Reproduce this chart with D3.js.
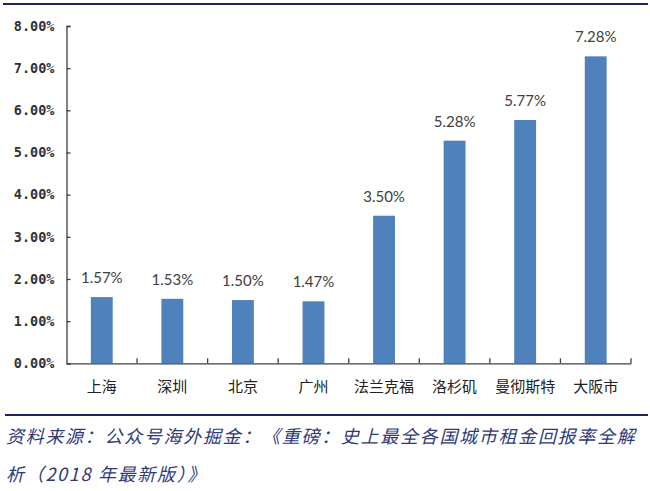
<!DOCTYPE html>
<html>
<head>
<meta charset="utf-8">
<script src="https://cdn.jsdelivr.net/npm/d3@7"></script>
<style>
  html, body { margin: 0; padding: 0; background: #fff; }
</style>
</head>
<body>
<svg id="chart" width="650" height="491"></svg>
<script>
const cities = ['上海', '深圳', '北京', '广州', '法兰克福', '洛杉矶', '曼彻斯特', '大阪市'];
const yields = [1.57, 1.53, 1.50, 1.47, 3.50, 5.28, 5.77, 7.28];
const yTicks = [0, 1, 2, 3, 4, 5, 6, 7, 8];
const sourceLines = [
    '资料来源：公众号海外掘金：《重磅：史上最全各国城市租金回报率全解',
    '析（2018 年最新版）》'
];

const svg = d3.select('#chart');
const plotLeft = 66.5, plotRight = 631, plotTop = 26, plotBottom = 363.3;

const x = d3.scaleBand()
    .domain(cities)
    .range([plotLeft, plotRight])
    .paddingInner(0.69)
    .paddingOuter(0.345);

const y = d3.scaleLinear()
    .domain([0, 8])
    .range([plotBottom, plotTop]);

// rules top and under the chart
svg.append('line')
    .attr('x1', 3).attr('x2', 648)
    .attr('y1', 4).attr('y2', 4)
    .attr('stroke', '#1f2466').attr('stroke-width', 2);
svg.append('line')
    .attr('x1', 5).attr('x2', 648)
    .attr('y1', 415).attr('y2', 415)
    .attr('stroke', '#1f2466').attr('stroke-width', 2);

// bars
svg.selectAll('rect.bar')
    .data(yields)
    .enter()
    .append('rect')
    .attr('class', 'bar')
    .attr('x', (d, i) => x(cities[i]))
    .attr('y', d => y(d))
    .attr('width', x.bandwidth())
    .attr('height', d => plotBottom - y(d))
    .attr('fill', '#4f81bd');

// value labels
svg.selectAll('text.val')
    .data(yields)
    .enter()
    .append('text')
    .attr('class', 'val')
    .attr('x', (d, i) => x(cities[i]) + x.bandwidth() / 2)
    .attr('y', d => y(d) - 14)
    .attr('text-anchor', 'middle')
    .attr('font-family', 'Lato, "Open Sans", sans-serif')
    .attr('font-size', 15)
    .attr('fill', '#404040')
    .text(d => d.toFixed(2) + '%');

// y axis
const yAxis = svg.append('g')
    .attr('transform', `translate(${plotLeft},0)`)
    .call(d3.axisLeft(y).tickValues(yTicks).tickSize(-4).tickSizeOuter(-4)
        .tickPadding(12).tickFormat(d => d.toFixed(2) + '%'));
yAxis.selectAll('text')
    .attr('font-family', '"DejaVu Sans Mono", monospace')
    .attr('font-size', 13.5)
    .attr('font-weight', 'bold')
    .attr('fill', '#333');

// x axis
const xAxis = svg.append('g')
    .attr('transform', `translate(0,${plotBottom})`)
    .call(d3.axisBottom(x).tickSize(0).tickSizeOuter(0).tickPadding(18));
xAxis.selectAll('text')
    .attr('font-family', '"Noto Sans CJK SC", sans-serif')
    .attr('font-size', 15)
    .attr('fill', '#222');

// category dividers on the x axis
const step = x.step();
xAxis.selectAll('line.div')
    .data(d3.range(1, cities.length + 1))
    .enter()
    .append('line')
    .attr('class', 'div')
    .attr('x1', i => plotLeft + i * step)
    .attr('x2', i => plotLeft + i * step)
    .attr('y1', 0).attr('y2', -5)
    .attr('stroke', '#404040');

svg.selectAll('.domain, .tick line, line.div')
    .attr('stroke', '#404040')
    .attr('stroke-width', 1.3);

// source note
svg.selectAll('text.src')
    .data(sourceLines)
    .enter()
    .append('text')
    .attr('class', 'src')
    .attr('x', 6)
    .attr('y', (d, i) => 443 + i * 38)
    .attr('font-family', '"Noto Sans CJK SC", serif')
    .attr('font-size', 18)
    .attr('font-style', 'italic')
    .attr('letter-spacing', 1.7)
    .attr('fill', '#2e3a78')
    .text(d => d);
</script>
</body>
</html>
